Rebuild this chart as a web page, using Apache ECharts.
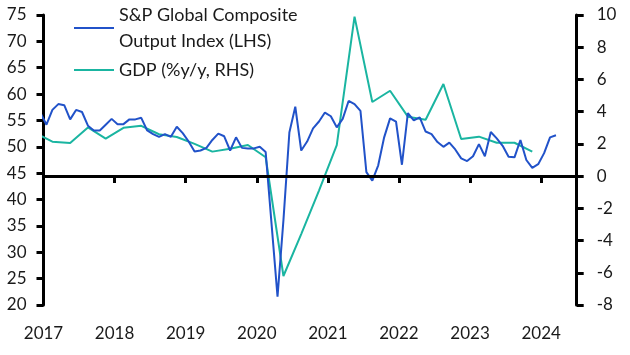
<!DOCTYPE html>
<html><head><meta charset="utf-8">
<script src="https://cdn.jsdelivr.net/npm/echarts@6/dist/echarts.min.js"></script>
<style>html,body{margin:0;padding:0;background:#fff}#c{width:630px;height:355px}</style>
</head><body><div id="c"></div>
<script>
// Monthly PMI, Dec 2016 - Mar 2024
const pmiStart = [2016, 12];
const pmiValues = [56.4,
 54.2,57.0,58.1,57.9,55.2,57.0,56.6,54.0,53.1,53.1,54.2,55.3,
 54.3,54.3,55.2,55.2,55.5,53.1,52.4,51.9,52.4,51.9,53.8,52.6,
 51.0,49.1,49.3,49.8,51.3,52.5,52.0,49.3,51.8,49.8,49.7,49.7,
 50.0,49.0,35.3,21.6,36.1,52.7,57.6,49.3,51.0,53.5,54.8,56.5,
 55.8,53.7,55.3,58.7,58.1,56.8,45.2,43.6,46.5,51.8,55.4,54.8,
 46.6,56.4,55.0,55.6,52.9,52.4,50.9,50.0,50.8,49.5,47.8,47.3,
 48.2,50.5,48.2,52.8,51.6,50.2,48.1,48.0,51.3,47.5,46.0,46.7,
 48.8,51.8,52.2];
// Quarterly GDP %y/y, Q4 2016 - Q4 2023
const gdpStart = [2016, 4];
const gdpValues = [2.7,
 2.14,2.06,3.02,2.33,
 3.0,3.12,2.6,2.43,
 2.0,1.52,1.7,1.93,
 1.17,-6.2,-3.6,-0.9,
 1.93,9.9,4.6,5.3,
 3.69,3.5,5.72,2.3,
 2.45,2.07,2.07,1.52];
const yearTicks = [2017,2018,2019,2020,2021,2022,2023,2024];
const pmiName = 'S&P Global Composite Output Index (LHS)';
const gdpName = 'GDP (%y/y, RHS)';

const pmiData = pmiValues.map((v,i)=>{
  const m = pmiStart[1]-1+i; const y = pmiStart[0]+Math.floor(m/12);
  return [y + ((m%12)+0.5)/12, v];
});
const gdpData = gdpValues.map((v,i)=>{
  const q = gdpStart[1]-1+i; const y = gdpStart[0]+Math.floor(q/4);
  return [y + ((q%4)*3+1.5)/12, v];
});

const FONT = 'Lato';
const TXT = '#1a1a1a';
const BLUE = '#2152c9';
const TEAL = '#1ab5a1';
const chart = echarts.init(document.getElementById('c'));
chart.setOption({
  animation:false,
  textStyle:{fontFamily:FONT},
  grid:{left:43.5,right:53.3,top:15,bottom:50},
  legend:[{
    data:[pmiName], left:74, top:-11, orient:'vertical', padding:0,
    itemWidth:40, itemHeight:12,
    icon:'path://M0,5L40,5L40,7L0,7Z',
    formatter:()=> 'S&P Global Composite\nOutput Index (LHS)',
    textStyle:{fontFamily:FONT,fontSize:18,color:TXT,lineHeight:26,padding:[26,0,0,0]}
  },{
    data:[gdpName], left:74, top:61, orient:'vertical', padding:0,
    itemWidth:40, itemHeight:12,
    icon:'path://M0,5L40,5L40,7L0,7Z',
    textStyle:{fontFamily:FONT,fontSize:18,color:TXT}
  }],
  xAxis:{
    type:'value', min:yearTicks[0], max:2024.5, interval:1,
    axisLine:{lineStyle:{color:'#000',width:3}},
    axisTick:{show:true,length:7,lineStyle:{color:'#000',width:3},
      interval:0},
    axisLabel:{fontFamily:FONT,fontSize:17,color:TXT,margin:20,
      formatter:v=> yearTicks.indexOf(v)>=0 ? String(v) : '',
      showMaxLabel:false},
    splitLine:{show:false}
  },
  yAxis:[{
    type:'value', min:20, max:75, interval:5, position:'left',
    axisLine:{show:true,lineStyle:{color:'#000',width:3}},
    axisTick:{show:true,length:7,lineStyle:{color:'#000',width:3}},
    axisLabel:{fontFamily:FONT,fontSize:17,color:TXT,margin:17},
    splitLine:{show:false}
  },{
    type:'value', min:-8, max:10, interval:2, position:'right',
    axisLine:{show:true,lineStyle:{color:'#000',width:3}},
    axisTick:{show:true,length:7,lineStyle:{color:'#000',width:3}},
    axisLabel:{fontFamily:FONT,fontSize:17,color:TXT,margin:20},
    splitLine:{show:false}
  }],
  series:[{
    name:pmiName, type:'line', yAxisIndex:0, data:pmiData,
    showSymbol:false, symbol:'none', color:BLUE,
    lineStyle:{color:BLUE,width:2}, z:3
  },{
    name:gdpName, type:'line', yAxisIndex:1, data:gdpData,
    showSymbol:false, symbol:'none', color:TEAL,
    lineStyle:{color:TEAL,width:2}, z:2,
    markLine:{silent:true,symbol:'none',label:{show:false},
      lineStyle:{color:'#000',width:3,type:'solid'},
      data:[{yAxis:0}]}
  }]
});
</script></body></html>
